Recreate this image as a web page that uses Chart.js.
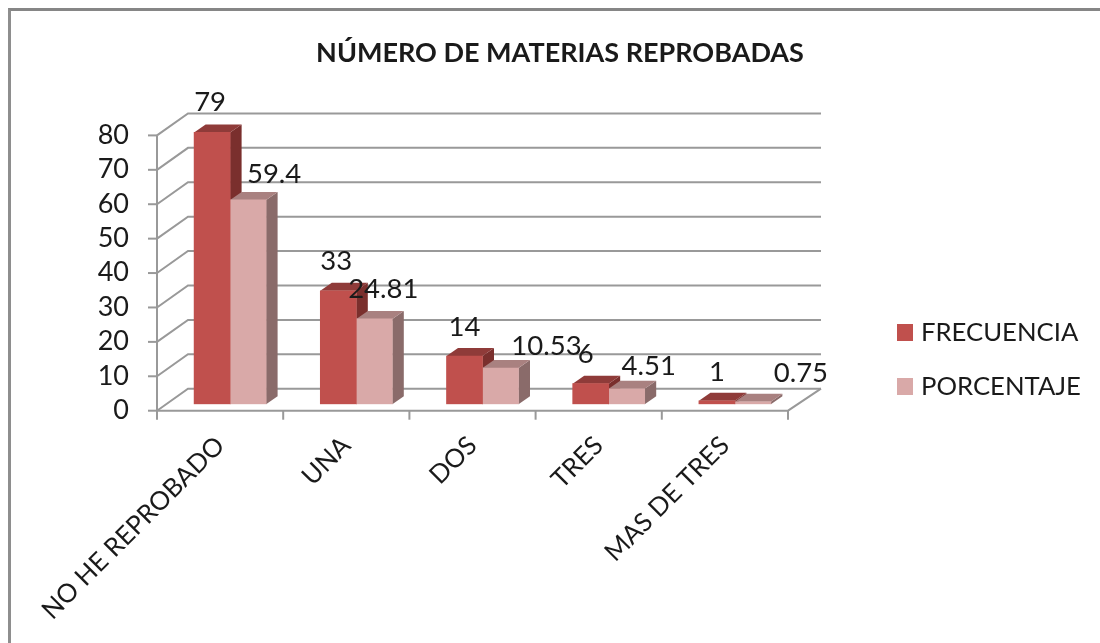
<!DOCTYPE html>
<html lang="es">
<head>
  <meta charset="UTF-8">
  <title>Número de materias reprobadas</title>
  <script src="https://cdn.jsdelivr.net/npm/chart.js"></script>
  <style>
    html, body { margin: 0; background: #fff; overflow: hidden; }
    #wrap { position: relative; width: 1100px; height: 643px; }
    #frame {
      position: absolute; left: 8px; top: 8px; width: 1092px; height: 700px;
      border-top: 3px solid #868686; border-left: 3px solid #8e8e8e;
    }
    canvas { position: absolute; left: 0; top: 0; filter: blur(0.4px); }
  </style>
</head>
<body>

<div id="wrap">
  <div id="frame"></div>
  <canvas id="chart" width="1100" height="643"></canvas>
</div>

<script>
  const categories = ["NO HE REPROBADO", "UNA", "DOS", "TRES", "MAS DE TRES"];
  const frecuencia = [79, 33, 14, 6, 1];
  const porcentaje = [59.4, 24.81, 10.53, 4.51, 0.75];
  const yTicks = [0, 10, 20, 30, 40, 50, 60, 70, 80];

  // hand placed value labels, as in the original chart: [dx, dy] from bar top centre
  const labelNudges = [
    [[-2, -30], [-2, -30], [0, -29], [-5, -30], [0, -29]],
    [[26, -26], [9, -30], [46, -22], [22, -23], [48, -29]]
  ];

  const FONT = "Lato, 'Open Sans', sans-serif";
  const TEXT = '#1a1a1a';

  // perspective of the fake 3D box
  const front = { dx: -10, dy: 6.4 };   // front edge of the floor, from the bars' base
  const back = { dx: 21, dy: -15.6 };   // back wall, from the bars' base
  const barDepth = { dx: 11.5, dy: -8 };

  const faces = [
    { top: '#8f3b39', side: '#7a2f2d' },
    { top: '#a98180', side: '#8a6b6a' }
  ];

  function poly(ctx, pts, fill) {
    ctx.beginPath();
    pts.forEach((p, i) => i ? ctx.lineTo(p[0], p[1]) : ctx.moveTo(p[0], p[1]));
    ctx.closePath();
    ctx.fillStyle = fill;
    ctx.fill();
  }

  function line(ctx, pts) {
    ctx.beginPath();
    pts.forEach((p, i) => i ? ctx.lineTo(p[0], p[1]) : ctx.moveTo(p[0], p[1]));
    ctx.stroke();
  }

  const box3d = {
    id: 'box3d',
    beforeDatasetsDraw(chart) {
      const { ctx, chartArea: area, scales: { x, y } } = chart;
      const right = area.right;
      ctx.save();
      ctx.strokeStyle = '#999';
      ctx.lineWidth = 2;

      // gridlines: front edge up to the back wall, then across
      yTicks.forEach(v => {
        const py = y.getPixelForValue(v);
        line(ctx, [
          [area.left + front.dx, py + front.dy],
          [area.left + back.dx, py + back.dy],
          [right + back.dx + 2, py + back.dy]
        ]);
        // tick
        line(ctx, [[area.left + front.dx - 9, py + front.dy], [area.left + front.dx, py + front.dy]]);
      });

      // y axis
      line(ctx, [
        [area.left + front.dx, y.getPixelForValue(80) + front.dy],
        [area.left + front.dx, y.getPixelForValue(0) + front.dy]
      ]);

      // floor
      const y0 = y.getPixelForValue(0);
      line(ctx, [
        [area.left + front.dx, y0 + front.dy],
        [right + front.dx, y0 + front.dy],
        [right + back.dx + 2, y0 + back.dy]
      ]);

      // x ticks at category boundaries
      const step = (right - area.left) / categories.length;
      categories.concat(['']).forEach((c, i) => {
        const px = area.left + front.dx + step * i;
        line(ctx, [[px, y0 + front.dy], [px, y0 + front.dy + 9]]);
      });

      // top and side faces of the bars, native bars paint the fronts over them
      chart.data.datasets.forEach((ds, di) => {
        chart.getDatasetMeta(di).data.forEach(bar => {
          const p = bar.getProps(['x', 'y', 'base', 'width']);
          const l = p.x - p.width / 2, r = p.x + p.width / 2;
          poly(ctx, [[r, p.y], [r + barDepth.dx, p.y + barDepth.dy], [r + barDepth.dx, p.base + barDepth.dy], [r, p.base]], faces[di].side);
          poly(ctx, [[l, p.y], [l + barDepth.dx, p.y + barDepth.dy], [r + barDepth.dx, p.y + barDepth.dy], [r, p.y]], faces[di].top);
        });
      });
      ctx.restore();
    },
    afterDatasetsDraw(chart) {
      const { ctx } = chart;
      ctx.save();
      ctx.font = '27.5px ' + FONT;
      ctx.fillStyle = TEXT;
      ctx.textAlign = 'center';
      ctx.textBaseline = 'middle';
      chart.data.datasets.forEach((ds, di) => {
        chart.getDatasetMeta(di).data.forEach((bar, i) => {
          const n = labelNudges[di][i];
          ctx.fillText(String(ds.data[i]), bar.x + n[0], bar.y + n[1]);
        });
      });

      // legend
      const lx = 897, ly = [332.5, 386.5];
      ctx.font = '25.7px ' + FONT;
      ctx.textAlign = 'left';
      chart.data.datasets.forEach((ds, di) => {
        ctx.fillStyle = ds.backgroundColor;
        ctx.fillRect(lx, ly[di] - 8.5, 16, 17);
        ctx.fillStyle = TEXT;
        ctx.fillText(ds.label, lx + 24, ly[di]);
      });
      ctx.restore();
    }
  };

  new Chart(document.getElementById('chart'), {
    type: 'bar',
    data: {
      labels: categories,
      datasets: [
        { label: 'FRECUENCIA', data: frecuencia, backgroundColor: '#c0504d', barThickness: 36 },
        { label: 'PORCENTAJE', data: porcentaje, backgroundColor: '#d9a9a8', barThickness: 36 }
      ]
    },
    options: {
      responsive: false,
      animation: false,
      layout: { padding: { top: 0, right: 0, left: 20, bottom: 0 } },
      plugins: {
        legend: { display: false },
        tooltip: { enabled: false },
        title: {
          display: true,
          text: 'NÚMERO DE MATERIAS REPROBADAS',
          color: TEXT,
          font: { family: FONT, size: 27, weight: 'bold' },
          padding: { top: 37, bottom: 59.6 }
        }
      },
      scales: {
        x: {
          grid: { display: false },
          border: { display: false },
          ticks: {
            color: TEXT,
            font: { family: FONT, size: 25.8 },
            maxRotation: 45,
            minRotation: 45,
            labelOffset: -10,
            padding: 18
          },
          afterFit(scale) { scale.height = 238.7; }
        },
        y: {
          min: 0,
          max: 80,
          afterBuildTicks(scale) { scale.ticks = yTicks.map(v => ({ value: v })); },
          grid: { display: false },
          border: { display: false },
          ticks: {
            color: TEXT,
            font: { family: FONT, size: 27 },
            autoSkip: false,
            labelOffset: 6,
            padding: 30
          },
          afterFit(scale) { scale.width = 147; }
        },
        // empty axis that keeps the room for the legend on the right
        spacer: {
          position: 'right',
          grid: { display: false },
          border: { display: false },
          ticks: { display: false },
          afterFit(scale) { scale.width = 302; }
        }
      }
    },
    plugins: [box3d]
  });
</script>

</body>
</html>
